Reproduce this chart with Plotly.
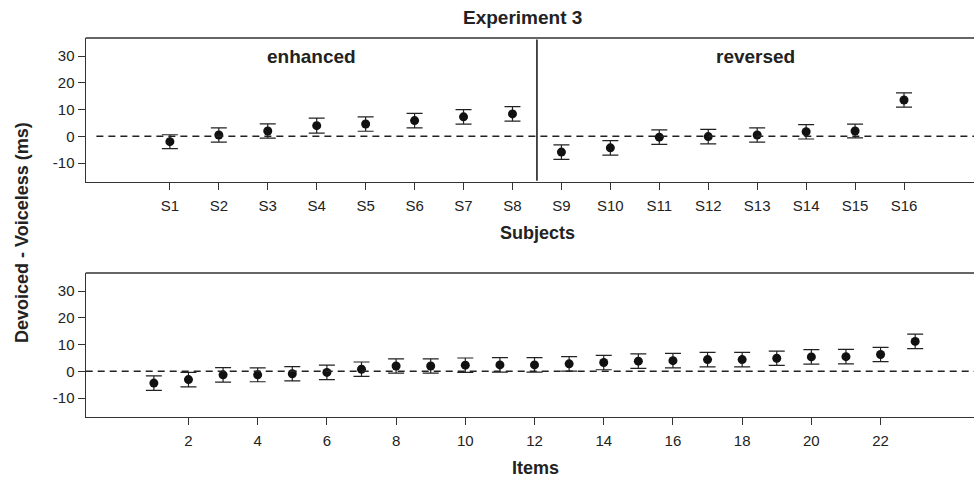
import plotly.graph_objects as go

# Devoiced minus voiceless duration differences (ms), mean +/- error
subject_labels = [f"S{i}" for i in range(1, 17)]
subject_pos = list(range(1, 17))
subject_means = [-2.0, 0.5, 2.0, 4.0, 4.6, 5.9, 7.3, 8.4,
                 -5.9, -4.3, -0.3, -0.1, 0.5, 1.7, 2.0, 13.6]
subject_err = [2.6, 2.7, 2.7, 2.8, 2.7, 2.7, 2.7, 2.7,
               2.7, 2.7, 2.7, 2.7, 2.7, 2.7, 2.6, 2.7]

item_pos = list(range(1, 24))
item_means = [-4.4, -3.1, -1.3, -1.3, -0.9, -0.4, 0.8, 2.0, 2.0, 2.3, 2.4, 2.4,
              2.8, 3.3, 3.8, 4.0, 4.4, 4.4, 4.9, 5.4, 5.5, 6.3, 11.2]
item_err = [2.7, 2.7, 2.7, 2.6, 2.7, 2.7, 2.7, 2.7, 2.7, 2.7, 2.7, 2.7,
            2.7, 2.7, 2.7, 2.7, 2.7, 2.7, 2.7, 2.7, 2.7, 2.7, 2.7]
item_ticks = list(range(2, 23, 2))

y_ticks = [-10, 0, 10, 20, 30]
y_ticktext = ["-10", "0", "10", "20", "30"]
group_names = ["enhanced", "reversed"]

FONT = "Liberation Sans, Arial, sans-serif"
INK = "#222222"
W, H = 974, 479

top_x_range = [-0.72, 17.43]
bot_x_range = [-0.97, 24.7]
y_range = [-17.2, 36.8]
split_x = 8.5

fig = go.Figure()

def points(x, y, err, xa, ya):
    return go.Scatter(
        x=x, y=y, mode="markers", xaxis=xa, yaxis=ya, showlegend=False,
        marker=dict(size=9, color="#111111"),
        error_y=dict(type="data", array=err, visible=True,
                     color=INK, thickness=1.2, width=8),
    )

fig.add_trace(points(subject_pos, subject_means, subject_err, "x", "y"))
fig.add_trace(points(item_pos, item_means, item_err, "x2", "y2"))

top_dom = [1 - 182.3 / H, 1 - 38 / H]
bot_dom = [1 - 417.3 / H, 1 - 273 / H]
x_dom = [85.7 / W, 1.0]

axis_common = dict(
    showgrid=False, zeroline=False, showline=True, linecolor="#333333",
    linewidth=1.3, ticks="outside", ticklen=7, tickwidth=1.2,
    tickcolor="#333333", tickfont=dict(family=FONT, size=15, color=INK),
)

fig.update_layout(
    width=W, height=H, margin=dict(l=0, r=0, t=0, b=0),
    paper_bgcolor="white", plot_bgcolor="white",
    xaxis=dict(domain=x_dom, anchor="y", range=top_x_range,
               tickvals=subject_pos, ticktext=subject_labels,
               ticklabelstandoff=3, **axis_common),
    yaxis=dict(domain=top_dom, anchor="x", range=y_range,
               tickvals=y_ticks, ticktext=y_ticktext, **axis_common),
    xaxis2=dict(domain=x_dom, anchor="y2", range=bot_x_range,
                tickvals=item_ticks, ticklabelstandoff=3, **axis_common),
    yaxis2=dict(domain=bot_dom, anchor="x2", range=y_range,
                tickvals=y_ticks, ticktext=y_ticktext, **axis_common),
)

# top edges of both frames, zero reference lines, group divider
for dom in (top_dom, bot_dom):
    fig.add_shape(type="line", xref="paper", yref="paper",
                  x0=x_dom[0], x1=1.0, y0=dom[1], y1=dom[1],
                  line=dict(color="#333333", width=1.3))
fig.add_shape(type="line", xref="x domain", yref="y", x0=0.012, x1=1, y0=0, y1=0,
              line=dict(color=INK, width=1.5, dash="7px,5px"))
fig.add_shape(type="line", xref="x2 domain", yref="y2", x0=0, x1=1, y0=0, y1=0,
              line=dict(color=INK, width=1.5, dash="7px,5px"))
fig.add_shape(type="line", xref="x", yref="y domain", x0=split_x, x1=split_x,
              y0=0.01, y1=0.99, line=dict(color="#111111", width=1.5))

# group headings centred in each half of the top panel
for name, (a, b) in zip(group_names, [(top_x_range[0], split_x), (split_x, top_x_range[1])]):
    fig.add_annotation(x=(a + b) / 2, y=30, xref="x", yref="y", text=f"<b>{name}</b>",
                       xanchor="center", yanchor="middle", showarrow=False,
                       font=dict(family=FONT, size=19, color=INK))

def label(text, px, py, size, angle=0):
    fig.add_annotation(x=px / W, y=1 - py / H, xref="paper", yref="paper",
                       text=f"<b>{text}</b>", textangle=angle, showarrow=False,
                       xanchor="center", yanchor="middle",
                       font=dict(family=FONT, size=size, color=INK))

label("Experiment 3", 522, 17, 19)
label("Subjects", 537, 233, 18)
label("Items", 535, 468, 18)
label("Devoiced - Voiceless (ms)", 22, 233, 18, angle=-90)

fig.write_html("out.html")
